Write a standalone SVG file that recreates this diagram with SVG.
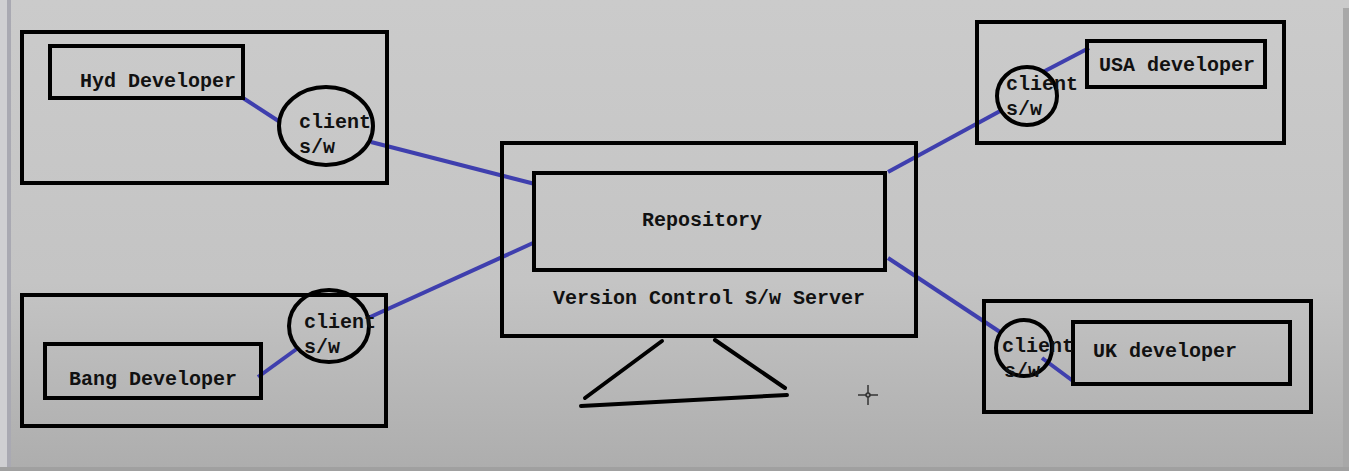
<svg xmlns="http://www.w3.org/2000/svg" width="1349" height="471" viewBox="0 0 1349 471">
<defs>
<linearGradient id="bg" x1="0" y1="0" x2="0" y2="1">
<stop offset="0" stop-color="#cbcbcb"/>
<stop offset="0.6" stop-color="#c4c4c4"/>
<stop offset="1" stop-color="#adadad"/>
</linearGradient>
</defs>
<style>
.box{fill:none;stroke:#000;stroke-width:4}
.circ{fill:none;stroke:#000;stroke-width:4}
.link{stroke:#3f3fae;stroke-width:4;fill:none}
.stand{stroke:#000;stroke-width:4;fill:none;stroke-linecap:round}
.t{font-family:"Liberation Mono","DejaVu Sans Mono",monospace;font-weight:bold;font-size:20px;fill:#111}
</style>
<rect x="0" y="0" width="1349" height="471" fill="url(#bg)"/>
<rect x="0" y="0" width="7" height="471" fill="#cfcfd2"/>
<rect x="7" y="0" width="4" height="471" fill="#a9a9b2"/>
<rect x="1343" y="8" width="6" height="463" fill="#a8a8a8"/>
<rect x="0" y="467" width="1349" height="4" fill="#a0a0a0"/>

<g id="connectors">
<line class="link" x1="243" y1="98" x2="280" y2="122"/>
<line class="link" x1="371" y1="142" x2="535" y2="184"/>
<line class="link" x1="258" y1="377" x2="298" y2="348"/>
<line class="link" x1="368" y1="318" x2="533" y2="243"/>
<line class="link" x1="888" y1="172" x2="1002" y2="110"/>
<line class="link" x1="1043" y1="72" x2="1089" y2="48"/>
<line class="link" x1="888" y1="258" x2="1000" y2="332"/>
<line class="link" x1="1042" y1="358" x2="1073" y2="381"/>
</g>

<g id="hyd">
<rect class="box" x="22" y="32" width="365" height="151"/>
<rect class="box" x="50" y="46" width="193" height="52"/>
<text class="t" x="80" y="87">Hyd Developer</text>
<ellipse class="circ" cx="326" cy="126" rx="47" ry="39"/>
<text class="t" x="299" y="128">client</text>
<text class="t" x="299" y="153">s/w</text>
</g>

<g id="bang">
<rect class="box" x="22" y="295" width="364" height="131"/>
<rect class="box" x="45" y="344" width="216" height="54"/>
<text class="t" x="69" y="385">Bang Developer</text>
<ellipse class="circ" cx="329" cy="326" rx="40" ry="36"/>
<text class="t" x="304" y="328">client</text>
<text class="t" x="304" y="353">s/w</text>
</g>

<g id="server">
<rect class="box" x="502" y="143" width="414" height="193"/>
<rect class="box" x="534" y="173" width="351" height="97"/>
<text class="t" x="702" y="226" text-anchor="middle">Repository</text>
<text class="t" x="553" y="304">Version Control S/w Server</text>
<line class="stand" x1="662" y1="341" x2="585" y2="398"/>
<line class="stand" x1="715" y1="340" x2="785" y2="388"/>
<line class="stand" x1="581" y1="406" x2="787" y2="395"/>
</g>

<g id="usa">
<rect class="box" x="977" y="22" width="307" height="121"/>
<rect class="box" x="1087" y="41" width="178" height="46"/>
<text class="t" x="1099" y="71">USA developer</text>
<ellipse class="circ" cx="1027" cy="96" rx="30" ry="29"/>
<text class="t" x="1006" y="90">client</text>
<text class="t" x="1006" y="115">s/w</text>
</g>

<g id="uk">
<rect class="box" x="984" y="301" width="327" height="111"/>
<rect class="box" x="1073" y="322" width="217" height="62"/>
<text class="t" x="1093" y="357">UK developer</text>
<ellipse class="circ" cx="1024" cy="348" rx="28" ry="28"/>
<text class="t" x="1002" y="352">client</text>
<text class="t" x="1004" y="377">s/w</text>
</g>

<g id="cursor" stroke="#333" stroke-width="1.5">
<line x1="868" y1="385" x2="868" y2="405"/>
<line x1="858" y1="395" x2="878" y2="395"/>
<circle cx="868" cy="395" r="2" fill="#999"/>
</g>
</svg>
